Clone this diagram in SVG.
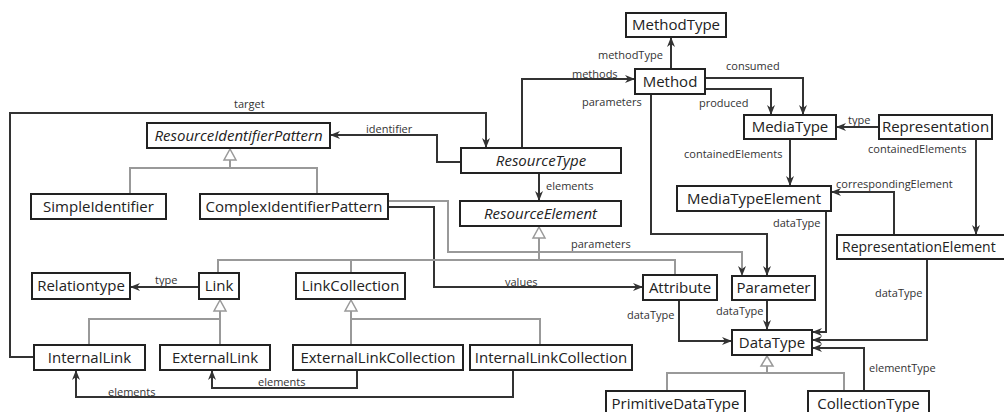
<svg xmlns="http://www.w3.org/2000/svg" width="1004" height="412" viewBox="0 0 1004 412">
<style>
.box{fill:#fff;stroke:#222;stroke-width:2}
.nt{font-family:"Open Sans","Liberation Sans",sans-serif;font-size:15px;fill:#222;text-anchor:middle}
.it{font-style:italic}
.c{fill:none;stroke:#333;stroke-width:2}
.g{fill:none;stroke:#999;stroke-width:2}
.tri{fill:#fff;stroke:#999;stroke-width:1.5}
.lb{font-family:"Open Sans","Liberation Sans",sans-serif;font-size:11px;fill:#333}
</style>
<defs>
<marker id="a" viewBox="0 0 10 8" refX="9" refY="4" markerWidth="10" markerHeight="8" markerUnits="userSpaceOnUse" orient="auto">
<path d="M0,0 L10,4 L0,8 L3,4 z" fill="#333"/>
</marker>
</defs>
<rect width="1004" height="412" fill="#fff"/>

<g id="connectors">
<path class="c" d="M671,69 V38" marker-end="url(#a)"/>
<path class="c" d="M705,78 H803 V114" marker-end="url(#a)"/>
<path class="c" d="M705,89 H771 V114" marker-end="url(#a)"/>
<path class="c" d="M879,127 H837" marker-end="url(#a)"/>
<path class="c" d="M790,139 V185" marker-end="url(#a)"/>
<path class="c" d="M976,139 V234" marker-end="url(#a)"/>
<path class="c" d="M894,235 V192 H832" marker-end="url(#a)"/>
<path class="c" d="M927,259 V340 H813" marker-end="url(#a)"/>
<path class="c" d="M826,211 V332 H813" marker-end="url(#a)"/>
<path class="c" d="M864,391 V348 H813" marker-end="url(#a)"/>
<path class="c" d="M767,300 V329" marker-end="url(#a)"/>
<path class="c" d="M679,300 V341 H731" marker-end="url(#a)"/>
<path class="c" d="M651,94 V234 H767 V275" marker-end="url(#a)"/>
<path class="c" d="M522,148 V79 H634" marker-end="url(#a)"/>
<path class="c" d="M539,173 V200" marker-end="url(#a)"/>
<path class="c" d="M461,162 H437 V135 H331" marker-end="url(#a)"/>
<path class="c" d="M34,357 H10 V113 H486 V147" marker-end="url(#a)"/>
<path class="c" d="M388,207 H434 V287 H642" marker-end="url(#a)"/>
<path class="g" d="M388,201 H448 V252 H742 V275" marker-end="url(#a)"/>
<path class="c" d="M199,287 H131" marker-end="url(#a)"/>
<path class="c" d="M357,370 V388 H212 V371" marker-end="url(#a)"/>
<path class="c" d="M513,370 V397 H76 V371" marker-end="url(#a)"/>

<path class="g" d="M230,160 V168 M130,194 V168 H317 V194"/>
<polygon class="tri" points="230,149 224,160 236,160"/>
<path class="g" d="M539,238 V260 M218,273 V260 H675 V275 M351,260 V273"/>
<polygon class="tri" points="539,227 533,238 545,238"/>
<path class="g" d="M220,311 V345 M89,345 V319 H220"/>
<polygon class="tri" points="220,300 214,311 226,311"/>
<path class="g" d="M351,311 V345 M351,319 H540 V345"/>
<polygon class="tri" points="351,300 345,311 357,311"/>
<path class="g" d="M767,366 V373 M667,391 V373 H844 V391"/>
<polygon class="tri" points="767,356 761,366 773,366"/>

<text class="lb" x="598" y="59">methodType</text>
<text class="lb" x="726" y="70">consumed</text>
<text class="lb" x="699" y="107">produced</text>
<text class="lb" x="848" y="124">type</text>
<text class="lb" x="684" y="158">containedElements</text>
<text class="lb" x="868" y="153">containedElements</text>
<text class="lb" x="836" y="188">correspondingElement</text>
<text class="lb" x="773" y="227">dataType</text>
<text class="lb" x="875" y="297">dataType</text>
<text class="lb" x="716" y="315">dataType</text>
<text class="lb" x="627" y="319">dataType</text>
<text class="lb" x="869" y="372">elementType</text>
<text class="lb" x="582" y="106">parameters</text>
<text class="lb" x="572" y="78">methods</text>
<text class="lb" x="546" y="190">elements</text>
<text class="lb" x="366" y="133">identifier</text>
<text class="lb" x="234" y="108">target</text>
<text class="lb" x="571" y="248">parameters</text>
<text class="lb" x="505" y="286">values</text>
<text class="lb" x="155" y="284">type</text>
<text class="lb" x="258" y="386">elements</text>
<text class="lb" x="108" y="396">elements</text>
</g>

<g id="MethodType"><rect class="box" x="626" y="13" width="100" height="24"/><text class="nt" x="676" y="30">MethodType</text></g>
<g id="Method"><rect class="box" x="635" y="69" width="70" height="25"/><text class="nt" x="670" y="87">Method</text></g>
<g id="MediaType"><rect class="box" x="744" y="115" width="92" height="24"/><text class="nt" x="790" y="132">MediaType</text></g>
<g id="Representation"><rect class="box" x="879" y="115" width="113" height="24"/><text class="nt" x="935.500" y="132">Representation</text></g>
<g id="MediaTypeElement"><rect class="box" x="677" y="186" width="154" height="25"/><text class="nt" x="754" y="204">MediaTypeElement</text></g>
<g id="RepresentationElement"><rect class="box" x="837" y="235" width="185" height="24"/><text class="nt" x="842" y="252" style="text-anchor:start;font-size:14px">RepresentationElement</text></g>
<g id="ResourceType"><rect class="box" x="461" y="148" width="160" height="25"/><text class="nt it" x="541" y="166">ResourceType</text></g>
<g id="ResourceElement"><rect class="box" x="460" y="201" width="161" height="25"/><text class="nt it" x="540.500" y="219">ResourceElement</text></g>
<g id="ResourceIdentifierPattern"><rect class="box" x="147" y="123" width="183" height="25"/><text class="nt it" x="238.500" y="141">ResourceIdentifierPattern</text></g>
<g id="SimpleIdentifier"><rect class="box" x="31" y="194" width="135" height="25"/><text class="nt" x="98.500" y="212">SimpleIdentifier</text></g>
<g id="ComplexIdentifierPattern"><rect class="box" x="200" y="194" width="188" height="25"/><text class="nt" x="294" y="212">ComplexIdentifierPattern</text></g>
<g id="Relationtype"><rect class="box" x="32" y="273" width="98" height="26"/><text class="nt" x="81" y="291">Relationtype</text></g>
<g id="Link"><rect class="box" x="199" y="273" width="40" height="26"/><text class="nt" x="219" y="291">Link</text></g>
<g id="LinkCollection"><rect class="box" x="296" y="273" width="109" height="26"/><text class="nt" x="350.500" y="291">LinkCollection</text></g>
<g id="Attribute"><rect class="box" x="643" y="275" width="74" height="25"/><text class="nt" x="680" y="293">Attribute</text></g>
<g id="Parameter"><rect class="box" x="732" y="276" width="83" height="24"/><text class="nt" x="773.500" y="293">Parameter</text></g>
<g id="DataType"><rect class="box" x="732" y="330" width="80" height="25"/><text class="nt" x="772" y="348">DataType</text></g>
<g id="InternalLink"><rect class="box" x="34" y="345" width="111" height="25"/><text class="nt" x="89.500" y="363">InternalLink</text></g>
<g id="ExternalLink"><rect class="box" x="160" y="345" width="110" height="25"/><text class="nt" x="215" y="363">ExternalLink</text></g>
<g id="ExternalLinkCollection"><rect class="box" x="293" y="345" width="170" height="25"/><text class="nt" x="378" y="363">ExternalLinkCollection</text></g>
<g id="InternalLinkCollection"><rect class="box" x="470" y="345" width="162" height="25"/><text class="nt" x="551" y="363">InternalLinkCollection</text></g>
<g id="PrimitiveDataType"><rect class="box" x="606" y="391" width="139" height="25"/><text class="nt" x="675.500" y="409">PrimitiveDataType</text></g>
<g id="CollectionType"><rect class="box" x="808" y="391" width="121" height="25"/><text class="nt" x="868.500" y="409">CollectionType</text></g>
</svg>
